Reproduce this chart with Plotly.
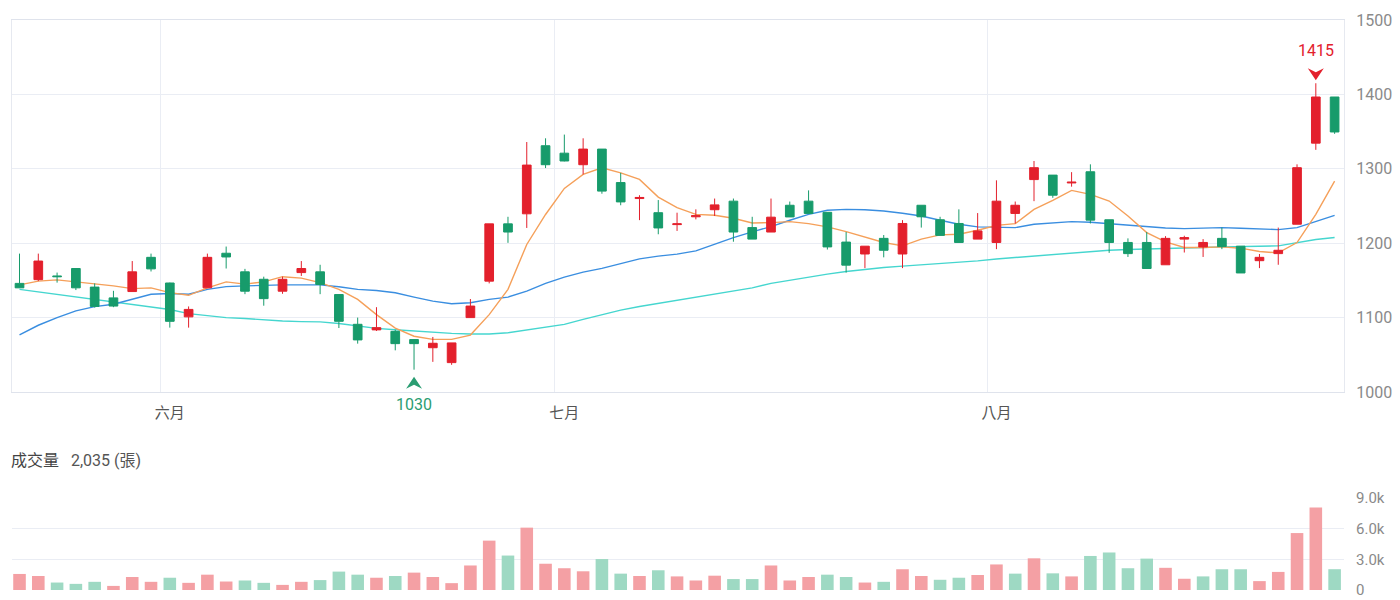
import plotly.graph_objects as go

# ---------------- data ----------------
opens = [1146, 1151, 1156, 1166, 1141, 1126.5, 1135, 1181, 1146.5, 1101,
         1140, 1186.5, 1161.5, 1151.5, 1135.5, 1160.5, 1161.5, 1131, 1091, 1083.5,
         1081.5, 1070.5, 1059.5, 1039.5, 1100, 1149, 1226, 1239.5, 1331, 1321,
         1305.5, 1326.5, 1281.5, 1260, 1241, 1225, 1235.5, 1245, 1256.5, 1221,
         1215, 1251, 1256.5, 1241.5, 1201.5, 1185.5, 1206.5, 1185.5, 1251, 1231.5,
         1226.5, 1205.5, 1201, 1240, 1285.5, 1291.5, 1281, 1296, 1231.5, 1201,
         1201, 1171, 1205.5, 1195, 1206.5, 1196, 1176.5, 1186, 1225.5, 1334.5,
         1396.5]
highs = [1186, 1186, 1160.5, 1166, 1146, 1136, 1176, 1186, 1147, 1115,
         1186, 1195.5, 1165.5, 1155, 1155, 1176, 1171, 1131, 1100, 1114,
         1083.5, 1071, 1074, 1066, 1125, 1226, 1235.5, 1336, 1341, 1346,
         1341, 1326.5, 1294.5, 1264.5, 1258, 1241, 1245.5, 1260, 1260, 1235.5,
         1260, 1256, 1271, 1241.5, 1215, 1196, 1211, 1231, 1251, 1235.5,
         1245.5, 1240.5, 1284.5, 1256, 1310.5, 1291.5, 1295.5, 1306, 1231.5, 1206.5,
         1215, 1209.5, 1210, 1205.5, 1221, 1196, 1185.5, 1221, 1306, 1415,
         1396.5]
lows = [1140, 1149, 1147, 1137, 1113.5, 1114, 1135, 1162, 1086.5, 1086.5,
        1140, 1166, 1131.5, 1116, 1132, 1156, 1131.5, 1086, 1065, 1082,
        1056, 1030, 1040.5, 1036.5, 1100, 1146, 1200.5, 1220.5, 1301, 1310,
        1292.5, 1266.5, 1251, 1231, 1212, 1216.5, 1232, 1236.5, 1202, 1205.5,
        1215, 1235.3, 1240, 1191.5, 1160.5, 1166.5, 1181, 1166.5, 1221, 1210.5,
        1201, 1205.5, 1192, 1226.5, 1256.5, 1261, 1276, 1226.5, 1187, 1181.5,
        1166, 1171, 1187.5, 1181.5, 1192, 1160, 1166.5, 1171, 1225.5, 1325.5,
        1347]
closes = [1140, 1176, 1155, 1140, 1115, 1115.5, 1161.5, 1165.5, 1095, 1111,
          1181, 1181.5, 1135.5, 1125.5, 1151.5, 1166, 1144.5, 1095, 1070, 1086.5,
          1065, 1065, 1065.5, 1066, 1115.5, 1226, 1215, 1305, 1305.5, 1310.5,
          1326.5, 1270, 1255.5, 1261.5, 1220.5, 1226, 1237, 1251.5, 1215, 1205.5,
          1235, 1235.3, 1240, 1195, 1170.5, 1196, 1190.5, 1226.5, 1235.5, 1210.5,
          1201, 1216.5, 1256.5, 1251, 1301.5, 1264.5, 1282, 1231, 1201, 1186,
          1166, 1206.5, 1207.5, 1201, 1195.5, 1160, 1181, 1190.5, 1301.5, 1396.5,
          1349.5]
prev_close = 1138  # close of the session before the first candle

volumes = [1570, 1370, 730, 600, 800, 400, 1270, 800, 1200, 700,
           1500, 830, 930, 700, 500, 800, 970, 1800, 1500, 1200,
           1370, 1700, 1270, 670, 2400, 4830, 3370, 6100, 2570, 2130,
           1830, 3030, 1600, 1370, 1930, 1330, 930, 1400, 1070, 1070,
           2400, 930, 1270, 1500, 1270, 730, 800, 2030, 1370, 1000,
           1200, 1470, 2500, 1600, 3100, 1630, 1330, 3330, 3670, 2130,
           3070, 2170, 1100, 1330, 2030, 2030, 870, 1770, 5570, 8070,
           2035]

ma5 = [1144, 1149, 1150.7, 1148, 1146, 1142.6, 1139, 1140, 1133.6, 1130,
       1140, 1148, 1145, 1148, 1155, 1153, 1147, 1138, 1124.5, 1104,
       1086, 1075, 1070.7, 1070.7, 1076.5, 1104, 1138, 1198.3, 1238.6, 1273.6,
       1292.4, 1301.3, 1294.6, 1285.7, 1262, 1247.8, 1238.8, 1237.5, 1233.5, 1227.2,
       1227.7, 1229, 1226.3, 1221.9, 1215.6, 1208.5, 1201, 1196.4, 1205.4, 1211.2,
       1212, 1217.4, 1224, 1226.3, 1245.5, 1257.6, 1271, 1265.6, 1256.7, 1236.6,
       1214.3, 1201.8, 1194.2, 1194.2, 1195, 1193.3, 1188.8, 1187, 1200.9, 1238.8,
       1283.5]
ma20 = [1076.7, 1089.7, 1100, 1109, 1114.8, 1118, 1124.7, 1131.4, 1132.3, 1131.4,
        1138, 1141.7, 1142.6, 1143.5, 1144, 1144, 1144, 1141.5, 1137.9, 1136.5,
        1133.4, 1127.6, 1122.2, 1118.6, 1120, 1124.5, 1127.6, 1135.6, 1146, 1154.5,
        1161.2, 1166.1, 1172.8, 1179, 1182.7, 1185.3, 1189.7, 1198.7, 1207.6, 1215.2,
        1222.3, 1230.8, 1238.8, 1244.2, 1245.5, 1245, 1243.3, 1240.2, 1236.6, 1230.8,
        1225.4, 1221.9, 1221.5, 1221, 1225.4, 1227.7, 1229, 1228.1, 1226.3, 1224.6,
        1221.9, 1220.5, 1219.6, 1220.5, 1221, 1220, 1219.2, 1218.3, 1221, 1229,
        1237.5]
ma60 = [1138, 1134.5, 1131.4, 1127.8, 1124.2, 1120.6, 1117.5, 1114.3, 1110.8, 1105.4,
        1102.2, 1100, 1098.7, 1096.9, 1095.5, 1094.6, 1094.2, 1092, 1088.6, 1085.5,
        1083.7, 1081.9, 1080, 1078.8, 1077.9, 1077.9, 1079.7, 1083.3, 1086.4, 1090.9,
        1097.6, 1104.3, 1110.1, 1115, 1119, 1123, 1127, 1131, 1135, 1140,
        1146, 1150.4, 1155, 1158.5, 1162, 1165.2, 1167.4, 1169.2, 1171, 1171.9,
        1173.7, 1176.3, 1178.8, 1180.8, 1183, 1185.3, 1187, 1188.8, 1190.6, 1191.5,
        1192, 1192.4, 1193.3, 1194.2, 1195, 1196, 1196, 1196.4, 1200.9, 1205,
        1207.6]

month_labels = ["六月", "七月", "八月"]
month_first_idx = [8, 29, 52]          # first session of each month
price_ticks = [1000, 1100, 1200, 1300, 1400, 1500]
vol_ticks = [0, 3000, 6000, 9000]
vol_tick_text = ["0", "3.0k", "6.0k", "9.0k"]
vol_title = "成交量"
vol_unit = "張"

# ---------------- styles ----------------
RED = "#e3202c"
GREEN = "#179b6b"
RED_V = "#f4a0a4"
GREEN_V = "#9ed9c3"
C_MA5 = "#f5a05a"
C_MA20 = "#3a8ee0"
C_MA60 = "#45d6cf"
GRID = "#eaedf4"
FONT = "Roboto, 'Noto Sans CJK TC', sans-serif"

n = len(opens)
x = list(range(n))

prev = [prev_close] + closes[:-1]
vol_colors = [RED_V if c >= p else GREEN_V for c, p in zip(closes, prev)]

fig = go.Figure()

for vals, col in [(ma60, C_MA60), (ma20, C_MA20), (ma5, C_MA5)]:
    fig.add_trace(go.Scatter(x=x, y=vals, mode="lines", line=dict(color=col, width=1.4),
                             xaxis="x", yaxis="y", hoverinfo="skip"))

fig.add_trace(go.Candlestick(
    x=x, open=opens, high=highs, low=lows, close=closes,
    increasing=dict(line=dict(color=RED, width=1), fillcolor=RED),
    decreasing=dict(line=dict(color=GREEN, width=1), fillcolor=GREEN),
    whiskerwidth=0, xaxis="x", yaxis="y3"))

fig.add_trace(go.Bar(x=x, y=volumes, marker=dict(color=vol_colors, line=dict(width=0)),
                     width=0.67, xaxis="x2", yaxis="y2"))

x_range = [-0.4, 70.5]
price_range = [price_ticks[0], price_ticks[-1]]

i_max = max(range(n), key=lambda i: highs[i])
i_min = min(range(n), key=lambda i: lows[i])

fig.update_layout(
    width=1400, height=600,
    margin=dict(l=12, r=56, t=20, b=10, autoexpand=False),
    plot_bgcolor="white", paper_bgcolor="white",
    showlegend=False,
    boxgap=0.34,
    font=dict(family=FONT, color="#8a8a8a"),
    xaxis=dict(domain=[0, 1], anchor="y", range=x_range, automargin=False,
               tickmode="array", tickvals=month_first_idx, ticktext=month_labels,
               showgrid=False, zeroline=False,
               minor=dict(tickmode="array", tickvals=[i - 0.5 for i in month_first_idx],
                          showgrid=True, gridcolor=GRID, gridwidth=1, ticks=""),
               showline=True, linecolor="#dfe3ec", linewidth=1, mirror=True,
               ticks="outside", ticklen=7, tickcolor="rgba(0,0,0,0)",
               tickfont=dict(size=15, color="#555555"),
               rangeslider=dict(visible=False), fixedrange=True),
    yaxis=dict(domain=[(590 - 392) / 570, 1], anchor="x", range=price_range,
               automargin=False,
               side="right", tickmode="array", tickvals=price_ticks,
               showgrid=True, gridcolor=GRID, zeroline=False,
               showline=True, linecolor="#e6e9f0", mirror=True,
               ticks="outside", ticklen=8, tickcolor="rgba(0,0,0,0)",
               tickfont=dict(size=16, color="#8a8a8a")),
    yaxis3=dict(overlaying="y", range=price_range, visible=False, anchor="x",
                automargin=False),
    xaxis2=dict(domain=[0, 1], anchor="y2", range=x_range, showticklabels=False,
                showgrid=False, zeroline=False, showline=False, automargin=False),
    yaxis2=dict(domain=[0, (590 - 498) / 570], anchor="x2", range=[0, 9000],
                automargin=False,
                side="right", tickmode="array", tickvals=vol_ticks, ticktext=vol_tick_text,
                showgrid=True, gridcolor=GRID, zeroline=False,
                ticks="outside", ticklen=8, tickcolor="rgba(0,0,0,0)",
                tickfont=dict(size=15, color="#8a8a8a")),
    annotations=[
        dict(xref="paper", yref="paper", x=0, y=(590 - 460) / 570, xshift=-3,
             xanchor="left", yanchor="middle", showarrow=False,
             text=f"<span style='color:#444'>{vol_title}</span>&nbsp;&nbsp;&nbsp;{volumes[-1]:,} ({vol_unit})",
             font=dict(size=16, color="#555555")),
        dict(xref="x", yref="y", x=i_max, y=highs[i_max], yshift=33, showarrow=False,
             text=f"{highs[i_max]:g}", font=dict(size=16, color=RED),
             xanchor="center", yanchor="middle"),
        dict(xref="x", yref="y", x=i_min, y=lows[i_min], yshift=-35, showarrow=False,
             text=f"{lows[i_min]:g}", font=dict(size=16, color="#2a9d72"),
             xanchor="center", yanchor="middle"),
    ],
    shapes=[
        dict(type="path", xref="x", yref="y", xsizemode="pixel", ysizemode="pixel",
             xanchor=i_max, yanchor=highs[i_max],
             path="M -8,15 L 0,11 L 8,15 L 0,3 Z", fillcolor=RED, line=dict(width=0)),
        dict(type="path", xref="x", yref="y", xsizemode="pixel", ysizemode="pixel",
             xanchor=i_min, yanchor=lows[i_min],
             path="M -8,-19 L 0,-15 L 8,-19 L 0,-7 Z", fillcolor="#2a9d72", line=dict(width=0)),
    ],
)

fig.write_html("out.html")
